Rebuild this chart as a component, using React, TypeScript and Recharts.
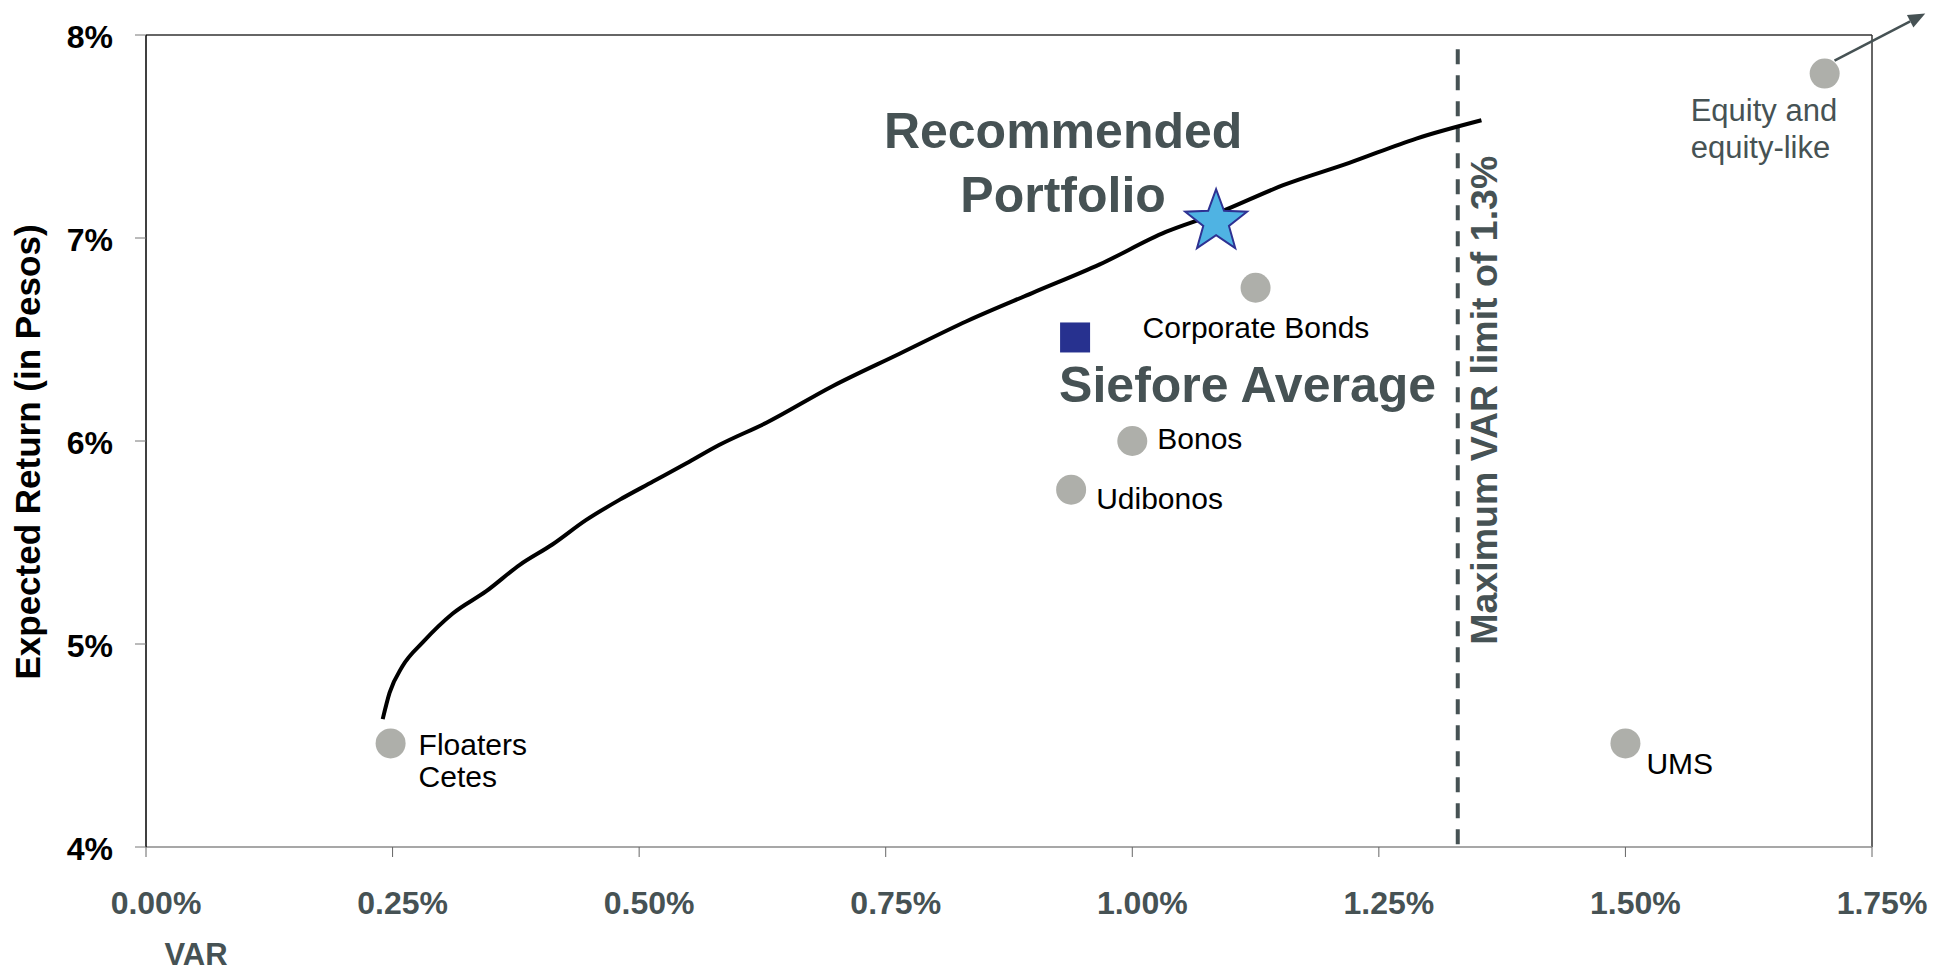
import React from 'react';
import { ComposedChart, Line, Scatter, XAxis, YAxis, ReferenceLine, Label } from 'recharts';

// axis ticks (VAR in %, expected return in %)
const varTicks = [0, 0.25, 0.5, 0.75, 1.0, 1.25, 1.5, 1.75];
const returnTicks = [4, 5, 6, 7, 8];

// efficient frontier
const frontierVar = [0.240, 0.247, 0.260, 0.281, 0.311, 0.345, 0.379, 0.412, 0.446, 0.480, 0.514, 0.548, 0.581, 0.629, 0.696, 0.764, 0.832, 0.899, 0.967, 1.034, 1.085, 1.153, 1.220, 1.288, 1.354];
const frontierReturn = [4.63, 4.76, 4.89, 5.01, 5.15, 5.26, 5.39, 5.49, 5.61, 5.71, 5.80, 5.89, 5.98, 6.09, 6.27, 6.43, 6.59, 6.73, 6.87, 7.03, 7.12, 7.26, 7.37, 7.49, 7.58];

// single asset classes
const assetNames = ['Floaters\nCetes', 'Udibonos', 'Bonos', 'Corporate Bonds', 'UMS', 'Equity and\nequity-like'];
const assetVar = [0.248, 0.938, 1.0, 1.125, 1.5, 1.702];
const assetReturn = [4.51, 5.76, 6.0, 6.755, 4.51, 7.81];

// portfolios
const recommendedVar = [1.085];
const recommendedReturn = [7.08];
const sieforeVar = [0.942];
const sieforeReturn = [6.51];

const varLimit = 1.33;
const varLimitTop = 7.93;
// equity arrow pointing off the chart
const arrowVar = [1.712, 1.804];
const arrowReturn = [7.874, 8.106];

const FONT = '"Liberation Sans", Arial, Helvetica, sans-serif';
const SLATE = '#465254';

const frontier = frontierVar.map((x, i) => ({ x, y: frontierReturn[i] }));
const assets = assetNames.map((name, i) => ({ name, x: assetVar[i], y: assetReturn[i] }));
const recommended = recommendedVar.map((x, i) => ({ x, y: recommendedReturn[i] }));
const siefore = sieforeVar.map((x, i) => ({ x, y: sieforeReturn[i] }));

const labelStyle: Record<string, { dx: number; dy: number; lh: number; fs: number; color: string }> = {
  'Floaters\nCetes': { dx: 28, dy: 1, lh: 32, fs: 30, color: '#000' },
  'Udibonos': { dx: 25, dy: 9, lh: 0, fs: 30, color: '#000' },
  'Bonos': { dx: 25, dy: -3, lh: 0, fs: 30, color: '#000' },
  'Corporate Bonds': { dx: -113, dy: 40, lh: 0, fs: 30, color: '#000' },
  'UMS': { dx: 21, dy: 20, lh: 0, fs: 30, color: '#000' },
  'Equity and\nequity-like': { dx: -134, dy: 37, lh: 37, fs: 31, color: SLATE },
};

const AssetDot = (props: any) => {
  const { cx, cy, payload } = props;
  const st = labelStyle[payload.name];
  return (
    <g>
      <circle cx={cx} cy={cy} r={15} fill="#aeafaa" />
      {payload.name.split('\n').map((ln: string, i: number) => (
        <text key={i} x={cx + st.dx} y={cy + st.dy + i * st.lh} dominantBaseline="central"
          fontSize={st.fs} fill={st.color} fontFamily={FONT}>{ln}</text>
      ))}
    </g>
  );
};

const StarDot = (props: any) => {
  const { cx, cy } = props;
  const R = 32.5, r = 13.5;
  const pts: string[] = [];
  for (let i = 0; i < 10; i++) {
    const a = -Math.PI / 2 + (i * Math.PI) / 5;
    const rad = i % 2 === 0 ? R : r;
    pts.push(`${cx + rad * Math.cos(a)},${cy + rad * Math.sin(a)}`);
  }
  return (
    <g>
      <text x={cx - 153} y={cy - 91} textAnchor="middle" dominantBaseline="central" fontSize={50}
        fontWeight="bold" fill={SLATE} fontFamily={FONT}>Recommended</text>
      <text x={cx - 153} y={cy - 27} textAnchor="middle" dominantBaseline="central" fontSize={50}
        fontWeight="bold" fill={SLATE} fontFamily={FONT}>Portfolio</text>
      <polygon points={pts.join(' ')} fill="#4fb3e3" stroke="#2e3192" strokeWidth={2} />
    </g>
  );
};

const SquareDot = (props: any) => {
  const { cx, cy } = props;
  return (
    <g>
      <rect x={cx - 15} y={cy - 15} width={30} height={30} fill="#27318f" />
      <text x={cx - 16} y={cy + 65} fontSize={50} fontWeight="bold" fill={SLATE} fontFamily={FONT}>Siefore Average</text>
    </g>
  );
};

const ArrowShape = (p: any) => {
  const { x1, y1, x2, y2 } = p;
  const ang = Math.atan2(y2 - y1, x2 - x1);
  const L = 17, W = 7;
  const bx = x2 - L * Math.cos(ang);
  const by = y2 - L * Math.sin(ang);
  const pts = [
    [x2, y2],
    [bx + W * Math.sin(ang), by - W * Math.cos(ang)],
    [bx - W * Math.sin(ang), by + W * Math.cos(ang)],
  ].map((q) => q.join(',')).join(' ');
  return (
    <g>
      <line x1={x1} y1={y1} x2={bx} y2={by} stroke={SLATE} strokeWidth={2.5} />
      <polygon points={pts} fill={SLATE} />
    </g>
  );
};

const XTick = ({ x, y, payload }: any) => (
  <text x={x + 10} y={y + 44} textAnchor="middle" dominantBaseline="central" fontSize={32}
    fontWeight="bold" fill={SLATE} fontFamily={FONT}>{payload.value.toFixed(2)}%</text>
);

const YTick = ({ x, y, payload }: any) => (
  <text x={x - 20} y={y + 2} textAnchor="end" dominantBaseline="central" fontSize={32}
    fontWeight="bold" fill="#000" fontFamily={FONT}>{payload.value}%</text>
);

export default function App() {
  return (
    <div style={{ position: 'absolute', left: 0, top: 0, width: 1942, height: 971, background: '#fff' }}>
      <ComposedChart width={1942} height={971} margin={{ top: 35, right: 70, left: 0, bottom: 0 }}>
        <XAxis type="number" dataKey="x" domain={[0, 1.75]} ticks={varTicks} allowDataOverflow
          height={124} tickSize={10} tick={<XTick />} axisLine={{ stroke: '#8a8a8a', strokeWidth: 1.5 }}
          tickLine={{ stroke: '#666' }}>
          <Label content={({ viewBox }: any) => (
            <text x={viewBox.x + 50} y={viewBox.y + 107} textAnchor="middle" dominantBaseline="central"
              fontSize={31} fontWeight="bold" fill={SLATE} fontFamily={FONT}>VAR</text>
          )} />
        </XAxis>
        <YAxis type="number" dataKey="y" domain={[4, 8]} ticks={returnTicks} allowDataOverflow
          width={146} tickSize={11} tick={<YTick />} axisLine={{ stroke: '#000', strokeWidth: 1.5 }}
          tickLine={{ stroke: '#777' }}>
          <Label content={({ viewBox }: any) => {
            const cy = viewBox.y + viewBox.height / 2 + 11;
            return (
              <text x={40} y={cy} transform={`rotate(-90, 40, ${cy})`} textAnchor="middle"
                fontSize={35} fontWeight="bold" fill="#000" fontFamily={FONT}>Expected Return (in Pesos)</text>
            );
          }} />
        </YAxis>

        {/* plot frame: top and right edges */}
        <ReferenceLine y={8} stroke="#333" strokeWidth={1.5} />
        <ReferenceLine x={1.75} stroke="#333" strokeWidth={1.5} />

        {/* VAR limit */}
        <ReferenceLine segment={[{ x: varLimit, y: varLimitTop }, { x: varLimit, y: 4 }]}
          stroke={SLATE} strokeWidth={4} strokeDasharray="15 11">
          <Label content={({ viewBox }: any) => {
            const bx = viewBox.x + 39;
            const cy = viewBox.y + viewBox.height * 0.44;
            return (
              <text x={bx} y={cy} transform={`rotate(-90, ${bx}, ${cy})`} textAnchor="middle"
                fontSize={37.5} fontWeight="bold" fill={SLATE} fontFamily={FONT}>Maximum VAR limit of 1.3%</text>
            );
          }} />
        </ReferenceLine>

        <ReferenceLine ifOverflow="visible"
          segment={[{ x: arrowVar[0], y: arrowReturn[0] }, { x: arrowVar[1], y: arrowReturn[1] }]}
          shape={ArrowShape} />

        <Line data={frontier} dataKey="y" type="monotoneX" stroke="#000" strokeWidth={4} dot={false}
          isAnimationActive={false} />
        <Scatter data={assets} shape={AssetDot} isAnimationActive={false} />
        <Scatter data={siefore} shape={SquareDot} isAnimationActive={false} />
        <Scatter data={recommended} shape={StarDot} isAnimationActive={false} />
      </ComposedChart>
    </div>
  );
}
